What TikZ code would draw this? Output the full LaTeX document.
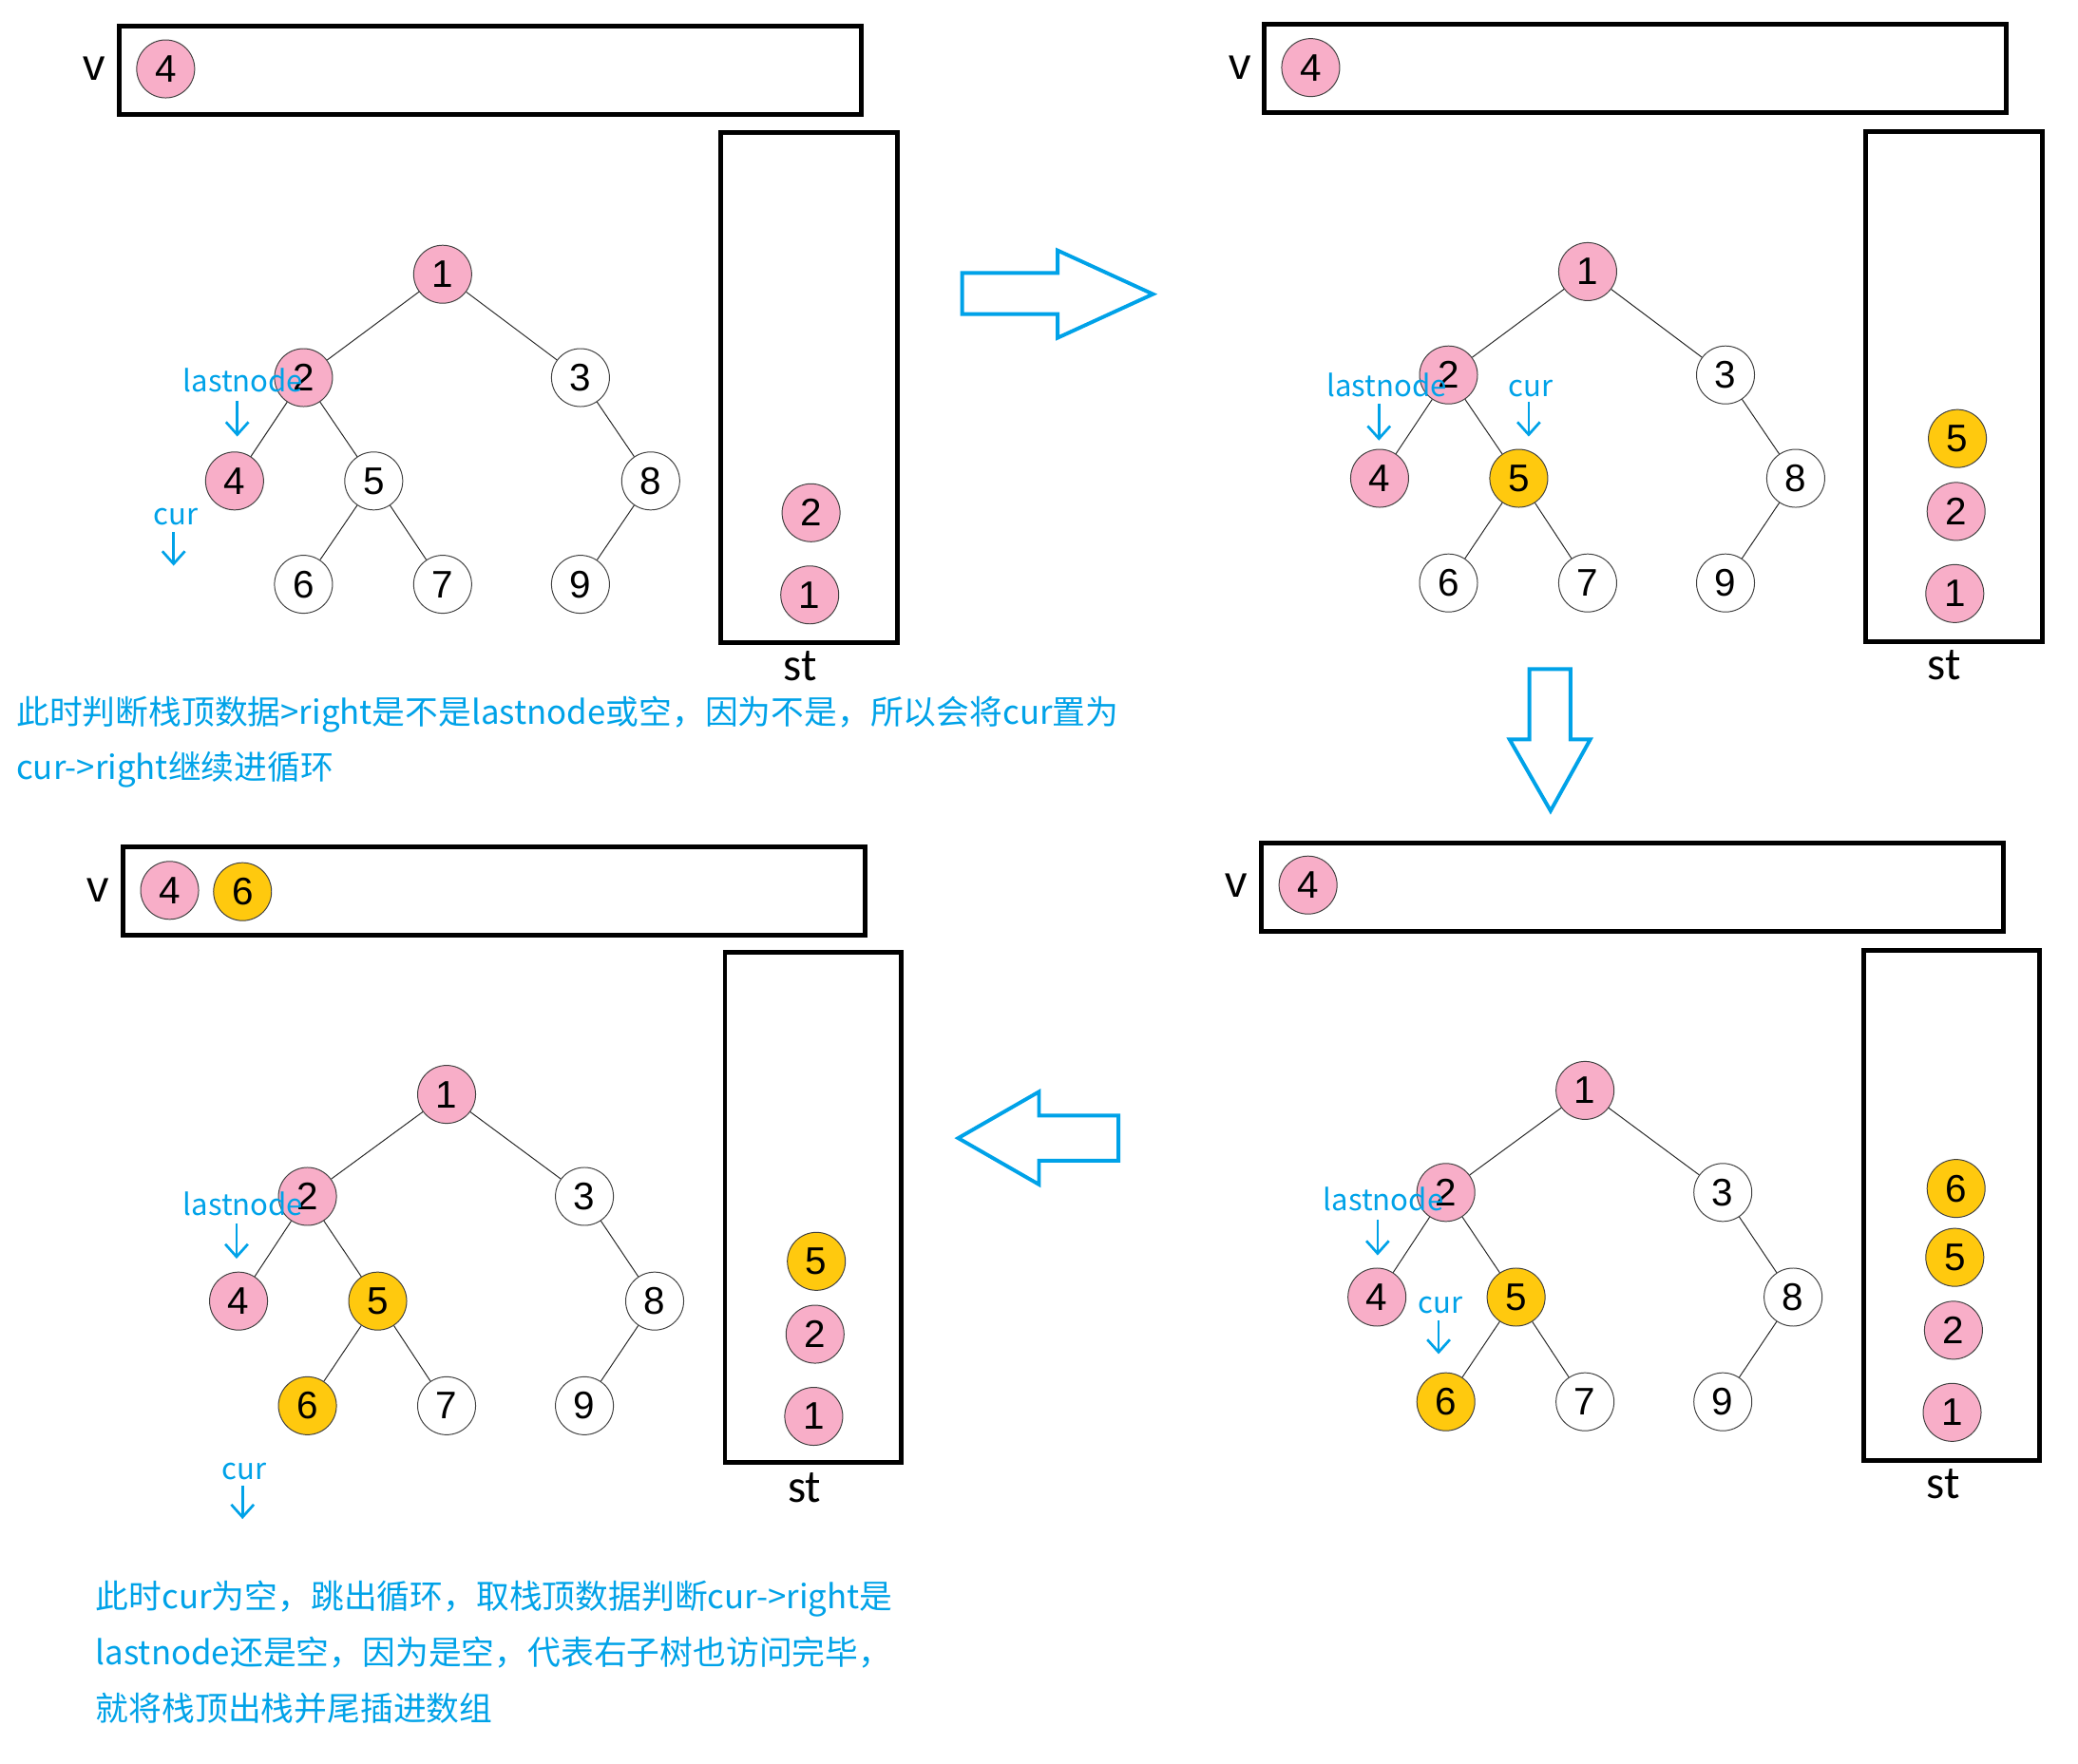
\documentclass[tikz,border=0pt]{standalone}
\usepackage{fontspec}
\setmainfont{Liberation Sans}
\newfontfamily\cjkfont{Noto Sans CJK SC}
\newfontfamily\stfont{Carlito}
\usetikzlibrary{arrows.meta}
\definecolor{nodepink}{HTML}{F8AEC8}
\definecolor{nodegold}{HTML}{FFC90E}
\definecolor{noteblue}{HTML}{00A2E8}

\begin{document}
\begin{tikzpicture}[
        treenode/.style={circle, draw=black!75, line width=0.4pt, minimum size=0.875cm, inner sep=0pt, fill=white, font=\fontsize{16.5}{16.5}\selectfont},
        pinknode/.style={treenode, fill=nodepink},
        goldnode/.style={treenode, fill=nodegold},
        treeline/.style={line width=0.4pt, draw=black!85},
        listbox/.style={draw, line width=2pt, inner sep=0pt, minimum width=11.2cm, minimum height=1.34cm},
        stackbox/.style={draw, line width=2pt, inner sep=0pt, minimum width=2.66cm, minimum height=7.7cm},
        vname/.style={inner sep=0pt, font=\fontsize{19}{19}\selectfont},
        stname/.style={inner sep=0pt, font=\stfont\fontsize{20}{20}\selectfont},
        ptrname/.style={anchor=base, inner sep=0pt, text=noteblue, font=\cjkfont\fontsize{12.7}{12.7}\selectfont},
        ptrarrow/.style={draw=noteblue, line width=1.1pt, -{Straight Barb[length=0.19cm, width=0.34cm]}},
        blockarrow/.style={draw=noteblue, line width=1.6pt},
        notetext/.style={anchor=west, inner sep=0pt, align=left, text=noteblue, font=\cjkfont\fontsize{14.2}{24}\selectfont}
    ]
        \useasboundingbox (0,0) rectangle (31.36,-26.62);

        % Panel A: v and st
        \node [listbox] (Av) at (7.40,-1.06) {};%
        \node [vname] (Avname) at (1.42,-1.04) {v};%
        \node [pinknode] (Av1) at (2.50,-1.04) {4};%
        \node [stackbox] (Ast) at (12.21,-5.85) {};%
        \node [stname] (Astname) at (12.08,-10.06) {st};%
        \node [pinknode] (As2) at (12.24,-7.74) {2};%
        \node [pinknode] (As1) at (12.22,-8.98) {1};%

        % Panel A: tree
        \node [pinknode] (A1) at (6.68,-4.14) {1};%
        \node [pinknode] (A2) at (4.58,-5.70) {2};%
        \node [treenode] (A3) at (8.76,-5.70) {3};%
        \node [pinknode] (A4) at (3.54,-7.26) {4};%
        \node [treenode] (A5) at (5.64,-7.26) {5};%
        \node [treenode] (A8) at (9.82,-7.26) {8};%
        \node [treenode] (A6) at (4.58,-8.82) {6};%
        \node [treenode] (A7) at (6.68,-8.82) {7};%
        \node [treenode] (A9) at (8.76,-8.82) {9};%
        \draw [treeline] (A1) -- (A2) (A1) -- (A3) (A2) -- (A4) (A2) -- (A5) (A5) -- (A6) (A5) -- (A7) (A3) -- (A8) (A8) -- (A9);%

        % Panel A: pointers
        \node [ptrname] (Alast) at (3.67,-5.92) {lastnode};%
        \coordinate (Alasttop) at (3.58,-6.05);
        \coordinate (Alastend) at (3.58,-6.59);
        \draw [ptrarrow] (Alasttop) -- (Alastend);%
        \node [ptrname] (Acur) at (2.65,-7.92) {cur};%
        \coordinate (Acurtop) at (2.62,-8.03);
        \coordinate (Acurend) at (2.62,-8.54);
        \draw [ptrarrow] (Acurtop) -- (Acurend);%

        % Panel A: note
        \node [notetext] (Anote) at (0.24,-11.20) {此时判断栈顶数据>right是不是lastnode或空，因为不是，所以会将cur置为\\cur->right继续进循环};%

        % Panel B: v and st
        \node [listbox] (Bv) at (24.68,-1.03) {};%
        \node [vname] (Bvname) at (18.72,-1.02) {v};%
        \node [pinknode] (Bv1) at (19.78,-1.02) {4};%
        \node [stackbox] (Bst) at (29.49,-5.83) {};%
        \node [stname] (Bstname) at (29.34,-10.04) {st};%
        \node [goldnode] (Bs3) at (29.54,-6.62) {5};%
        \node [pinknode] (Bs2) at (29.52,-7.72) {2};%
        \node [pinknode] (Bs1) at (29.50,-8.96) {1};%

        % Panel B: tree
        \node [pinknode] (B1) at (23.96,-4.10) {1};%
        \node [pinknode] (B2) at (21.86,-5.66) {2};%
        \node [treenode] (B3) at (26.04,-5.66) {3};%
        \node [pinknode] (B4) at (20.82,-7.22) {4};%
        \node [goldnode] (B5) at (22.92,-7.22) {5};%
        \node [treenode] (B8) at (27.10,-7.22) {8};%
        \node [treenode] (B6) at (21.86,-8.80) {6};%
        \node [treenode] (B7) at (23.96,-8.80) {7};%
        \node [treenode] (B9) at (26.04,-8.80) {9};%
        \draw [treeline] (B1) -- (B2) (B1) -- (B3) (B2) -- (B4) (B2) -- (B5) (B5) -- (B6) (B5) -- (B7) (B3) -- (B8) (B8) -- (B9);%

        % Panel B: pointers
        \node [ptrname] (Blast) at (20.93,-5.98) {lastnode};%
        \coordinate (Blasttop) at (20.81,-6.09);
        \coordinate (Blastend) at (20.81,-6.65);
        \draw [ptrarrow] (Blasttop) -- (Blastend);%
        \node [ptrname] (Bcur) at (23.10,-5.98) {cur};%
        \coordinate (Bcurtop) at (23.07,-6.07);
        \coordinate (Bcurend) at (23.07,-6.59);
        \draw [ptrarrow] (Bcurtop) -- (Bcurend);%

        % Panel C: v and st
        \node [listbox] (Cv) at (24.64,-13.39) {};%
        \node [vname] (Cvname) at (18.66,-13.36) {v};%
        \node [pinknode] (Cv1) at (19.74,-13.36) {4};%
        \node [stackbox] (Cst) at (29.45,-18.19) {};%
        \node [stname] (Cstname) at (29.33,-22.40) {st};%
        \node [goldnode] (Cs4) at (29.52,-17.94) {6};%
        \node [goldnode] (Cs3) at (29.50,-18.98) {5};%
        \node [pinknode] (Cs2) at (29.48,-20.08) {2};%
        \node [pinknode] (Cs1) at (29.46,-21.32) {1};%

        % Panel C: tree
        \node [pinknode] (C1) at (23.92,-16.46) {1};%
        \node [pinknode] (C2) at (21.82,-18.00) {2};%
        \node [treenode] (C3) at (26.00,-18.00) {3};%
        \node [pinknode] (C4) at (20.78,-19.58) {4};%
        \node [goldnode] (C5) at (22.88,-19.58) {5};%
        \node [treenode] (C8) at (27.06,-19.58) {8};%
        \node [goldnode] (C6) at (21.82,-21.16) {6};%
        \node [treenode] (C7) at (23.92,-21.16) {7};%
        \node [treenode] (C9) at (26.00,-21.16) {9};%
        \draw [treeline] (C1) -- (C2) (C1) -- (C3) (C2) -- (C4) (C2) -- (C5) (C5) -- (C6) (C5) -- (C7) (C3) -- (C8) (C8) -- (C9);%

        % Panel C: pointers
        \node [ptrname] (Clast) at (20.88,-18.28) {lastnode};%
        \coordinate (Clasttop) at (20.79,-18.41);
        \coordinate (Clastend) at (20.79,-18.95);
        \draw [ptrarrow] (Clasttop) -- (Clastend);%
        \node [ptrname] (Ccur) at (21.74,-19.83) {cur};%
        \coordinate (Ccurtop) at (21.71,-19.93);
        \coordinate (Ccurend) at (21.71,-20.44);
        \draw [ptrarrow] (Ccurtop) -- (Ccurend);%

        % Panel D: v and st
        \node [listbox] (Dv) at (7.46,-13.45) {};%
        \node [vname] (Dvname) at (1.48,-13.44) {v};%
        \node [pinknode] (Dv1) at (2.56,-13.44) {4};%
        \node [goldnode] (Dv2) at (3.66,-13.46) {6};%
        \node [stackbox] (Dst) at (12.27,-18.23) {};%
        \node [stname] (Dstname) at (12.14,-22.46) {st};%
        \node [goldnode] (Ds3) at (12.32,-19.04) {5};%
        \node [pinknode] (Ds2) at (12.30,-20.14) {2};%
        \node [pinknode] (Ds1) at (12.28,-21.38) {1};%

        % Panel D: tree
        \node [pinknode] (D1) at (6.74,-16.52) {1};%
        \node [pinknode] (D2) at (4.64,-18.06) {2};%
        \node [treenode] (D3) at (8.82,-18.06) {3};%
        \node [pinknode] (D4) at (3.60,-19.64) {4};%
        \node [goldnode] (D5) at (5.70,-19.64) {5};%
        \node [treenode] (D8) at (9.88,-19.64) {8};%
        \node [goldnode] (D6) at (4.64,-21.22) {6};%
        \node [treenode] (D7) at (6.74,-21.22) {7};%
        \node [treenode] (D9) at (8.82,-21.22) {9};%
        \draw [treeline] (D1) -- (D2) (D1) -- (D3) (D2) -- (D4) (D2) -- (D5) (D5) -- (D6) (D5) -- (D7) (D3) -- (D8) (D8) -- (D9);%

        % Panel D: pointers
        \node [ptrname] (Dlast) at (3.67,-18.34) {lastnode};%
        \coordinate (Dlasttop) at (3.57,-18.47);
        \coordinate (Dlastend) at (3.57,-19.00);
        \draw [ptrarrow] (Dlasttop) -- (Dlastend);%
        \node [ptrname] (Dcur) at (3.69,-22.33) {cur};%
        \coordinate (Dcurtop) at (3.66,-22.42);
        \coordinate (Dcurend) at (3.66,-22.93);
        \draw [ptrarrow] (Dcurtop) -- (Dcurend);%

        % Panel D: note
        \node [notetext, font=\cjkfont\fontsize{14.2}{24.2}\selectfont] (Dnote) at (1.44,-24.94) {此时cur为空，跳出循环，取栈顶数据判断cur->right是\\lastnode还是空，因为是空，代表右子树也访问完毕，\\就将栈顶出栈并尾插进数组};%

        % Drawing block arrows between panels
        \draw [blockarrow] (14.52,-4.12) -- (15.96,-4.12) -- (15.96,-3.78) -- (17.40,-4.44) -- (15.96,-5.10) -- (15.96,-4.74) -- (14.52,-4.74) -- cycle;%
        \draw [blockarrow] (23.08,-10.10) -- (23.70,-10.10) -- (23.70,-11.16) -- (24.00,-11.16) -- (23.40,-12.24) -- (22.78,-11.16) -- (23.08,-11.16) -- cycle;%
        \draw [blockarrow] (14.46,-17.18) -- (15.68,-16.48) -- (15.68,-16.84) -- (16.88,-16.84) -- (16.88,-17.52) -- (15.68,-17.52) -- (15.68,-17.88) -- cycle;%
\end{tikzpicture}
\end{document}
